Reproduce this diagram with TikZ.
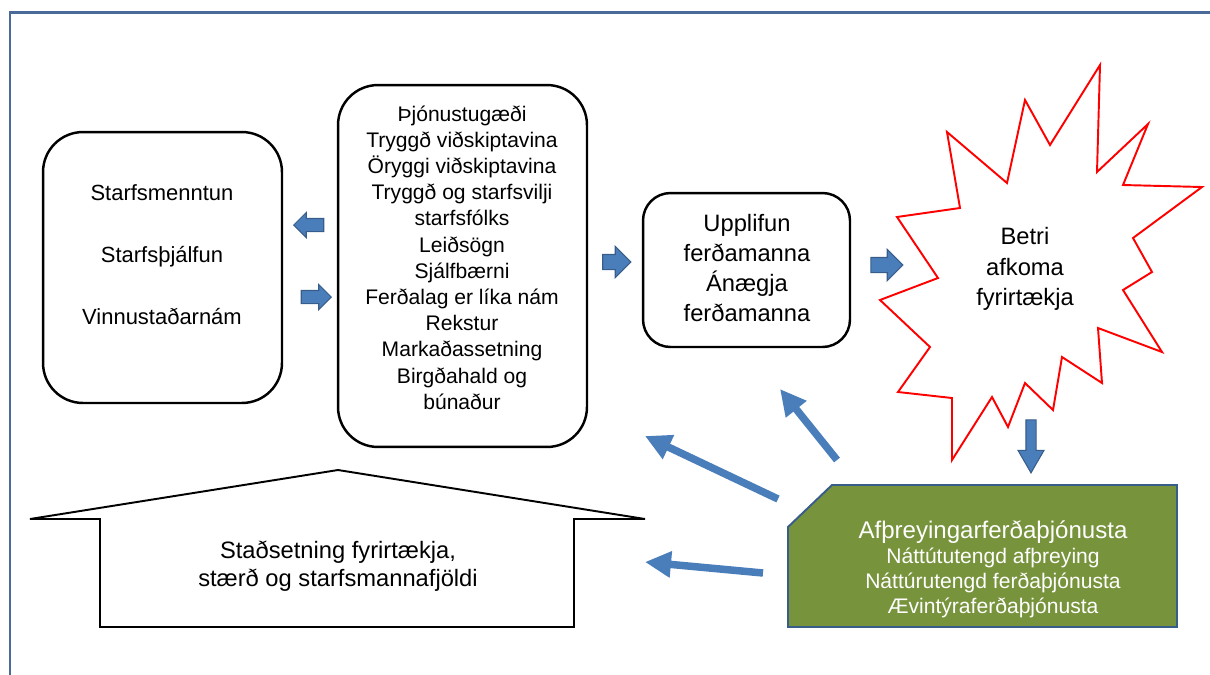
\documentclass[tikz,border=0pt]{standalone}
\usepackage{fontspec}
\setmainfont{Liberation Sans}
\usetikzlibrary{arrows.meta,shapes.arrows}

\definecolor{frameblue}{HTML}{4A6A99}
\definecolor{arrowblue}{HTML}{4A7EBB}
\definecolor{arrowedge}{HTML}{385D8A}
\definecolor{leafgreen}{HTML}{77933C}

\tikzset{
    roundbox/.style={draw, line width=1.4pt, rounded corners=#1, inner sep=0pt},
    roundbox/.default=0.8cm,
    plaintext/.style={align=center, inner sep=0pt, font=\fontsize{12}{14.9}\selectfont},
    blockarrow/.style={single arrow, draw=arrowedge, fill=arrowblue, line width=0.6pt,
        inner xsep=0pt, inner ysep=0.12cm, single arrow head extend=0.12cm}, 
    bluearrow/.style={draw=arrowblue, line width=0.15cm,
        -{Triangle[length=0.52cm,width=0.5cm]}}
}

\begin{document}
\begin{tikzpicture}[x=0.02cm, y=-0.02cm]

    \useasboundingbox (0,0) rectangle (1210,674);
    \clip (0,0) rectangle (1210,674);

    % outer frame
    \draw[frameblue, line width=1.7pt] (10,12) rectangle (1240,700);

    % rounded boxes
    \node[roundbox, minimum width=4.78cm, minimum height=5.42cm] (skills) at (162.5,267.5) {};
    \node[plaintext, font=\fontsize{12.5}{35.4}\selectfont] (skillstext) at (162,254.5)
        {Starfsmenntun\\Starfsþjálfun\\Vinnustaðarnám};

    \node[roundbox, minimum width=4.98cm, minimum height=7.24cm] (service) at (462.5,266) {};
    \node[plaintext] (servicetext) at (462,257.5)
        {Þjónustugæði\\Tryggð viðskiptavina\\Öryggi viðskiptavina\\Tryggð og starfsvilji\\
         starfsfólks\\Leiðsögn\\Sjálfbærni\\Ferðalag er líka nám\\Rekstur\\
         Markaðassetning\\Birgðahald og\\búnaður};

    \node[roundbox=0.55cm, minimum width=4.14cm, minimum height=3.08cm] (experience) at (746.5,270) {};
    \node[plaintext, font=\fontsize{13.5}{17}\selectfont] (experiencetext) at (747,268)
        {Upplifun\\ferðamanna\\Ánægja\\ferðamanna};

    % star
    \draw[red, line width=1.1pt] (1100,65) -- (1097,172) -- (1148,124) -- (1123,185)
        -- (1202,187) -- (1133,238) -- (1152,272) -- (1123,290) -- (1162,352)
        -- (1098,328) -- (1102,383) -- (1062,357) -- (1053,410) -- (1025,383)
        -- (1008,427) -- (992,397) -- (952,460) -- (952,398) -- (898,392)
        -- (930,347) -- (880,300) -- (938,278) -- (897,217) -- (960,208)
        -- (947,132) -- (1007,183) -- (1025,100) -- (1050,145) -- cycle;
    \node[plaintext, font=\fontsize{13.5}{17.4}\selectfont] (gain) at (1025,269)
        {Betri\\afkoma\\fyrirtækja};

    % house
    \draw[line width=1.1pt] (30,519) -- (338,470) -- (645,519) -- (574,519)
        -- (574,627) -- (100,627) -- (100,519) -- cycle;
    \node[plaintext, font=\fontsize{13.5}{15.9}\selectfont] (location) at (338,566)
        {Staðsetning fyrirtækja,\\stærð og starfsmannafjöldi};

    % green box
    \draw[arrowedge, fill=leafgreen, line width=1.1pt] (832,485) -- (1177,485)
        -- (1177,627) -- (788,627) -- (788,527) -- cycle;
    \node[plaintext, text=white, font=\fontsize{12}{14.2}\selectfont] (leisure) at (993,569)
        {{\fontsize{13.7}{15.9}\selectfont Afþreyingarferðaþjónusta}\\Náttútutengd afþreying\\
         Náttúrutengd ferðaþjónusta\\Ævintýraferðaþjónusta};

    % block arrows
    \node[blockarrow, shape border rotate=180, minimum height=0.6cm] (toskills) at (312,225) {};
    \node[blockarrow, minimum height=0.6cm] (fromskills) at (313,297) {};
    \node[blockarrow, minimum height=0.56cm, inner ysep=0.14cm,
        single arrow head extend=0.16cm] (toexperience) at (613,262) {};
    \node[blockarrow, minimum height=0.64cm, inner ysep=0.14cm,
        single arrow head extend=0.16cm] (togain) at (883,265) {};
    \node[blockarrow, shape border rotate=270, single arrow tip angle=60,
        minimum height=1.06cm, inner xsep=0.09cm, inner ysep=0pt,
        single arrow head extend=0.16cm] (toleisure) at (1031,442) {};

    % arrows from the green box
    \coordinate (tailA) at (778,499);
    \coordinate (headA) at (645,436);
    \coordinate (tailB) at (837,460);
    \coordinate (headB) at (780,389);
    \coordinate (tailC) at (763,573);
    \coordinate (headC) at (645,562);
    \draw[bluearrow] (tailA) -- (headA);
    \draw[bluearrow] (tailB) -- (headB);
    \draw[bluearrow] (tailC) -- (headC);

\end{tikzpicture}
\end{document}
